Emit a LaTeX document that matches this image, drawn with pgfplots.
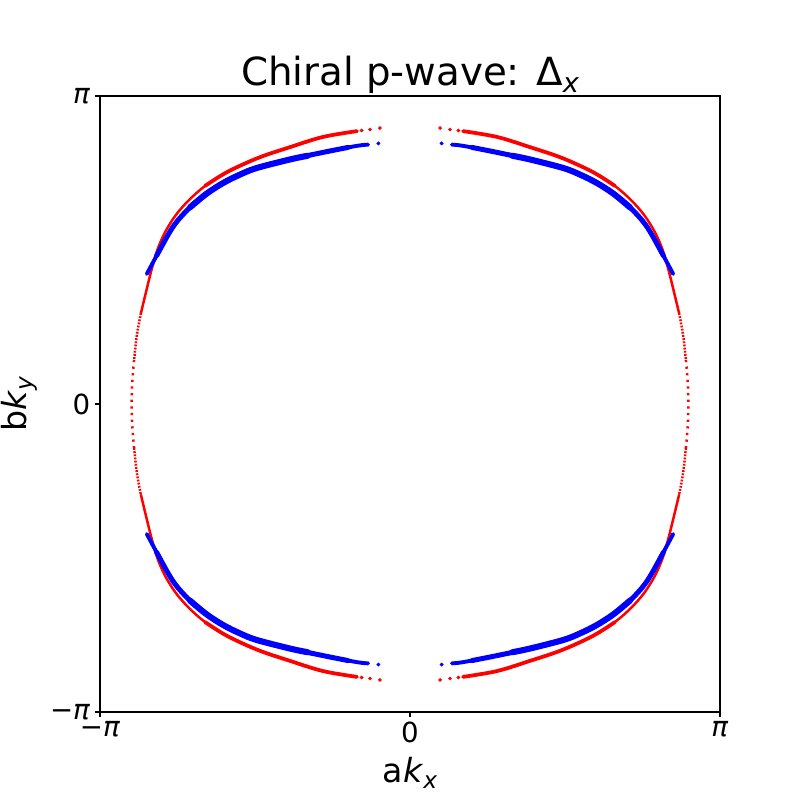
\documentclass[border=0pt]{standalone}
\usepackage{fontspec}
\setmainfont{DejaVu Sans}
\usepackage{graphicx}
\usepackage{pgfplots}
\pgfplotsset{compat=1.18}
\newcommand\sub[1]{\raisebox{-0.17em}{\scalebox{0.7}{\itshape #1}}}
\pgfplotsset{
  fsred/.style={red, line width=1.8pt, line cap=round, smooth, tension=0.55},
  fsredmid/.style={red, line width=2.7pt, line cap=round, smooth, tension=0.55},
  fsside/.style={red, line width=1.8pt, smooth, tension=0.55, dash pattern=on 1.3pt off 1.0pt},
  fsmid/.style={red, line width=1.8pt, smooth, tension=0.55, dash pattern=on 1.6pt off 3.2pt},
  fsblue/.style={blue, line width=2.8pt, line cap=round, smooth, tension=0.55},
  fsbluemid/.style={blue, line width=3.6pt, line cap=round, smooth, tension=0.55},
  fsbluecore/.style={blue, line width=4.4pt, line cap=round, smooth, tension=0.55},
  reddots/.style={only marks, mark=*, mark size=1.1pt, red, mark options={draw=red, fill=red}},
  bluedots/.style={only marks, mark=*, mark size=1.2pt, blue, mark options={draw=blue, fill=blue}},
}
\begin{document}
\begin{tikzpicture}
\path[use as bounding box] (-72.27pt,-63.60pt) rectangle (505.89pt,514.56pt);
\begin{axis}[
    scale only axis,
    width=448.07pt, height=445.18pt,
    xmin=-1, xmax=1, ymin=-1, ymax=1,
    axis line style={line width=0.8pt},
    tick align=outside, tick pos=left,
    major tick length=3.5pt,
    tick style={line width=0.8pt, black},
    xtick={-1,0,1}, ytick={-1,0,1},
    xticklabels={−\textit{π},0,\textit{π}},
    yticklabels={−\textit{π},0,\textit{π}},
    ticklabel style={font=\fontsize{20}{24}\selectfont},
    clip=true,
  ]
  % red, left arc
  \addplot[fsred] coordinates {(-0.171,0.886) (-0.281,0.867) (-0.387,0.834) (-0.490,0.799) (-0.590,0.753) (-0.661,0.708) (-0.713,0.662) (-0.755,0.614) (-0.790,0.558) (-0.815,0.500) (-0.834,0.435) (-0.850,0.370) (-0.868,0.295)};
  \addplot[fsside] coordinates {(-0.868,0.295) (-0.881,0.224) (-0.890,0.143)};
  \addplot[fsmid] coordinates {(-0.890,0.143) (-0.896,0.071) (-0.898,0.000) (-0.896,-0.071) (-0.890,-0.143)};
  \addplot[fsside] coordinates {(-0.890,-0.143) (-0.881,-0.224) (-0.868,-0.295)};
  \addplot[fsred] coordinates {(-0.171,-0.886) (-0.281,-0.867) (-0.387,-0.834) (-0.490,-0.799) (-0.590,-0.753) (-0.661,-0.708) (-0.713,-0.662) (-0.755,-0.614) (-0.790,-0.558) (-0.815,-0.500) (-0.834,-0.435) (-0.850,-0.370) (-0.868,-0.295)};
  % red, right arc
  \addplot[fsred] coordinates {(0.171,0.886) (0.281,0.867) (0.387,0.834) (0.490,0.799) (0.590,0.753) (0.661,0.708) (0.713,0.662) (0.755,0.614) (0.790,0.558) (0.815,0.500) (0.834,0.435) (0.850,0.370) (0.868,0.295)};
  \addplot[fsside] coordinates {(0.868,0.295) (0.881,0.224) (0.890,0.143)};
  \addplot[fsmid] coordinates {(0.890,0.143) (0.896,0.071) (0.898,0.000) (0.896,-0.071) (0.890,-0.143)};
  \addplot[fsside] coordinates {(0.890,-0.143) (0.881,-0.224) (0.868,-0.295)};
  \addplot[fsred] coordinates {(0.171,-0.886) (0.281,-0.867) (0.387,-0.834) (0.490,-0.799) (0.590,-0.753) (0.661,-0.708) (0.713,-0.662) (0.755,-0.614) (0.790,-0.558) (0.815,-0.500) (0.834,-0.435) (0.850,-0.370) (0.868,-0.295)};
  % thicker top part of the red arcs
  \addplot[fsredmid] coordinates {(-0.171,0.886) (-0.281,0.867) (-0.387,0.834) (-0.490,0.799) (-0.590,0.753) (-0.661,0.708)};
  \addplot[fsredmid] coordinates {(0.171,0.886) (0.281,0.867) (0.387,0.834) (0.490,0.799) (0.590,0.753) (0.661,0.708)};
  \addplot[fsredmid] coordinates {(-0.171,-0.886) (-0.281,-0.867) (-0.387,-0.834) (-0.490,-0.799) (-0.590,-0.753) (-0.661,-0.708)};
  \addplot[fsredmid] coordinates {(0.171,-0.886) (0.281,-0.867) (0.387,-0.834) (0.490,-0.799) (0.590,-0.753) (0.661,-0.708)};
  % red isolated points at the arc ends
  \addplot[reddots] coordinates {(-0.097,0.896) (-0.129,0.891) (-0.156,0.888) (0.097,0.896) (0.129,0.891) (0.156,0.888)
    (-0.097,-0.896) (-0.129,-0.891) (-0.156,-0.888) (0.097,-0.896) (0.129,-0.891) (0.156,-0.888)};
  % blue arcs
  \addplot[fsblue] coordinates {(-0.849,0.422) (-0.817,0.482) (-0.764,0.576) (-0.710,0.638) (-0.656,0.683) (-0.602,0.718) (-0.548,0.745) (-0.495,0.766) (-0.387,0.794) (-0.280,0.817) (-0.172,0.838) (-0.135,0.842)};
  \addplot[fsblue] coordinates {(0.849,0.422) (0.817,0.482) (0.764,0.576) (0.710,0.638) (0.656,0.683) (0.602,0.718) (0.548,0.745) (0.495,0.766) (0.387,0.794) (0.280,0.817) (0.172,0.838) (0.135,0.842)};
  \addplot[fsblue] coordinates {(-0.849,-0.422) (-0.817,-0.482) (-0.764,-0.576) (-0.710,-0.638) (-0.656,-0.683) (-0.602,-0.718) (-0.548,-0.745) (-0.495,-0.766) (-0.387,-0.794) (-0.280,-0.817) (-0.172,-0.838) (-0.135,-0.842)};
  \addplot[fsblue] coordinates {(0.849,-0.422) (0.817,-0.482) (0.764,-0.576) (0.710,-0.638) (0.656,-0.683) (0.602,-0.718) (0.548,-0.745) (0.495,-0.766) (0.387,-0.794) (0.280,-0.817) (0.172,-0.838) (0.135,-0.842)};
  % thicker middle of the blue bands
  \addplot[fsbluemid] coordinates {(-0.817,0.482) (-0.764,0.576) (-0.710,0.638) (-0.656,0.683) (-0.602,0.718) (-0.548,0.745) (-0.495,0.766) (-0.387,0.794) (-0.280,0.817) (-0.200,0.833)};
  \addplot[fsbluemid] coordinates {(0.817,0.482) (0.764,0.576) (0.710,0.638) (0.656,0.683) (0.602,0.718) (0.548,0.745) (0.495,0.766) (0.387,0.794) (0.280,0.817) (0.200,0.833)};
  \addplot[fsbluemid] coordinates {(-0.817,-0.482) (-0.764,-0.576) (-0.710,-0.638) (-0.656,-0.683) (-0.602,-0.718) (-0.548,-0.745) (-0.495,-0.766) (-0.387,-0.794) (-0.280,-0.817) (-0.200,-0.833)};
  \addplot[fsbluemid] coordinates {(0.817,-0.482) (0.764,-0.576) (0.710,-0.638) (0.656,-0.683) (0.602,-0.718) (0.548,-0.745) (0.495,-0.766) (0.387,-0.794) (0.280,-0.817) (0.200,-0.833)};
  \addplot[fsbluecore] coordinates {(-0.710,0.638) (-0.656,0.683) (-0.602,0.718) (-0.548,0.745) (-0.495,0.766) (-0.387,0.794) (-0.330,0.806)};
  \addplot[fsbluecore] coordinates {(0.710,0.638) (0.656,0.683) (0.602,0.718) (0.548,0.745) (0.495,0.766) (0.387,0.794) (0.330,0.806)};
  \addplot[fsbluecore] coordinates {(-0.710,-0.638) (-0.656,-0.683) (-0.602,-0.718) (-0.548,-0.745) (-0.495,-0.766) (-0.387,-0.794) (-0.330,-0.806)};
  \addplot[fsbluecore] coordinates {(0.710,-0.638) (0.656,-0.683) (0.602,-0.718) (0.548,-0.745) (0.495,-0.766) (0.387,-0.794) (0.330,-0.806)};
  \addplot[bluedots] coordinates {(-0.102,0.846) (0.102,0.846) (-0.102,-0.846) (0.102,-0.846)};
\end{axis}
\node[anchor=base, font=\fontsize{28}{34}\selectfont] at (224.04pt,452.41pt) {Chiral p-wave: Δ\sub{x}};
\node[anchor=base, font=\fontsize{24}{29}\selectfont] at (224.04pt,-51.31pt) {a\textit{k}\sub{x}};
\node[anchor=base, rotate=90, font=\fontsize{24}{29}\selectfont] at (-52.76pt,222.59pt) {b\textit{k}\sub{y}};
\end{tikzpicture}
\end{document}
